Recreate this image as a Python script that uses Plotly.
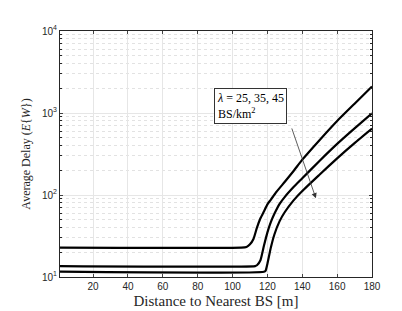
import plotly.graph_objects as go

# ---- data ----
x_l25 = [1, 105, 108, 110, 112, 114, 116, 118, 120, 122, 125, 130, 135, 140, 150, 160, 170, 180]
y_l25 = [22.8, 22.8, 23.2, 25, 29, 40, 52, 63, 77, 88, 108, 145, 196, 270, 470, 800, 1300, 2110]

x_l35 = [1, 113, 114, 116, 118, 120, 122, 124, 127, 130, 135, 140, 150, 160, 170, 180]
y_l35 = [13.6, 13.6, 13.9, 16, 24, 35, 47, 59, 78, 95, 125, 160, 262, 420, 650, 990]

x_l45 = [1, 118, 119, 120, 122, 124, 127, 130, 135, 140, 150, 160, 170, 180]
y_l45 = [11.6, 11.6, 12, 14.5, 23, 33, 48, 62, 86, 112, 178, 280, 430, 646]

x_ticks = [20, 40, 60, 80, 100, 120, 140, 160, 180]
y_ticks = [10, 100, 1000, 10000]
y_ticktext = ["10<sup>1</sup>", "10<sup>2</sup>", "10<sup>3</sup>", "10<sup>4</sup>"]
y_minor = [m * d for d in (10, 100, 1000) for m in range(2, 10)]

box_text = "<i>λ</i> = 25, 35, 45<br>BS/km<sup>2</sup>"

fig = go.Figure()
for xs, ys in [(x_l25, y_l25), (x_l35, y_l35), (x_l45, y_l45)]:
    fig.add_trace(go.Scatter(x=xs, y=ys, mode="lines",
                             line=dict(color="black", width=2.2, shape="spline", smoothing=0.5),
                             showlegend=False))

axis_col = "#262626"
fig.update_xaxes(range=[1, 180], tickmode="array", tickvals=x_ticks, ticks="inside", ticklen=3,
                 showline=True, linecolor=axis_col, linewidth=1, mirror="allticks",
                 showgrid=True, gridcolor="#e6e6e6", gridwidth=1, zeroline=False,
                 tickfont=dict(family="Liberation Sans, Arial", size=10, color=axis_col),
                 title=dict(text="Distance to Nearest BS [m]", standoff=4,
                            font=dict(family="Liberation Serif, Times New Roman", size=15, color=axis_col)))
fig.update_yaxes(type="log", range=[1, 4], tickmode="array", tickvals=y_ticks, ticktext=y_ticktext,
                 ticks="inside", ticklen=3,
                 showline=True, linecolor=axis_col, linewidth=1, mirror="allticks",
                 showgrid=True, gridcolor="#e6e6e6", gridwidth=1, zeroline=False,
                 minor=dict(tickmode="array", tickvals=y_minor, ticks="inside", ticklen=2,
                            tickcolor=axis_col, showgrid=True,
                            gridcolor="#e2e2e2", griddash="dot", gridwidth=1),
                 tickfont=dict(family="Liberation Sans, Arial", size=10, color=axis_col),
                 title=dict(text="Average Delay (<i>E</i>{<i>W</i>})", standoff=8,
                            font=dict(family="Liberation Serif, Times New Roman", size=12, color=axis_col)))

# text box
fig.add_annotation(x=89.5, y=3.085, xref="x", yref="y", text=box_text, showarrow=False,
                   xanchor="left", yanchor="middle", align="left",
                   font=dict(family="Liberation Serif, Times New Roman", size=12, color="black"),
                   bgcolor="white", bordercolor="#333333", borderwidth=1, borderpad=2)
# arrow
fig.add_annotation(x=147.8, y=1.961, ax=133.7, ay=2.83, xref="x", yref="y", axref="x", ayref="y",
                   text="", showarrow=True, arrowhead=2, arrowsize=1.3, arrowwidth=0.8,
                   arrowcolor="#333333")

fig.update_layout(width=402, height=311, margin=dict(l=52, r=38, t=23, b=35),
                  plot_bgcolor="white", paper_bgcolor="white")

fig.write_html("out.html")
